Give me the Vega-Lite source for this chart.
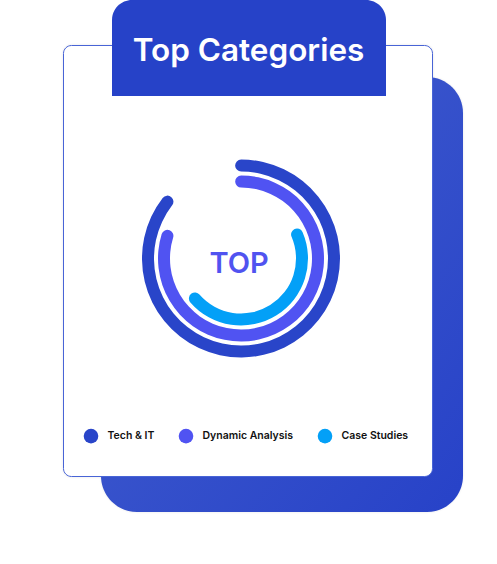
{
  "$schema": "https://vega.github.io/schema/vega-lite/v6.json",
  "width": 497,
  "height": 564,
  "padding": 0,
  "autosize": {"type": "none"},
  "background": "#ffffff",
  "config": {"view": {"stroke": null}},
  "data": {"values": [
    {"category": "Tech & IT", "start": -1.0, "end": 86.5},
    {"category": "Dynamic Analysis", "start": -1.2, "end": 81.0},
    {"category": "Case Studies", "start": 17.0, "end": 65.2}
  ]},
  "layer": [
    {
      "data": {"values": [{"w": 90}, {"w": 70}, {"w": 50}, {"w": 30}, {"w": 14}]},
      "mark": {"type": "rect", "fillOpacity": 0, "stroke": "#000000", "strokeOpacity": 0.008, "cornerRadius": 36, "strokeJoin": "round"},
      "encoding": {
        "x": {"datum": 101, "type": "quantitative", "scale": {"domain": [0, 497], "nice": false, "zero": false}, "axis": null},
        "x2": {"datum": 463},
        "y": {"datum": 77, "type": "quantitative", "scale": {"domain": [0, 564], "reverse": true, "nice": false, "zero": false}, "axis": null},
        "y2": {"datum": 512},
        "strokeWidth": {"field": "w", "type": "quantitative", "scale": {"type": "identity"}, "legend": null}
      }
    },
    {
      "data": {"values": [{"w": 90}, {"w": 70}, {"w": 50}, {"w": 30}, {"w": 14}]},
      "mark": {"type": "rect", "fillOpacity": 0, "stroke": "#000000", "strokeOpacity": 0.008, "cornerRadius": 8, "strokeJoin": "round"},
      "encoding": {
        "x": {"datum": 63, "type": "quantitative", "scale": {"domain": [0, 497], "nice": false, "zero": false}, "axis": null},
        "x2": {"datum": 433},
        "y": {"datum": 45, "type": "quantitative", "scale": {"domain": [0, 564], "reverse": true, "nice": false, "zero": false}, "axis": null},
        "y2": {"datum": 477},
        "strokeWidth": {"field": "w", "type": "quantitative", "scale": {"type": "identity"}, "legend": null}
      }
    },
    {
      "data": {"values": [{}]},
      "mark": {"type": "rect", "cornerRadius": 36, "color": {"gradient": "linear", "x1": 0, "y1": 0, "x2": 1, "y2": 1, "stops": [{"offset": 0, "color": "#4460CE"}, {"offset": 1, "color": "#2742C8"}]}},
      "encoding": {
        "x": {"datum": 101, "type": "quantitative", "scale": {"domain": [0, 497], "nice": false, "zero": false}, "axis": null},
        "x2": {"datum": 463},
        "y": {"datum": 77, "type": "quantitative", "scale": {"domain": [0, 564], "reverse": true, "nice": false, "zero": false}, "axis": null},
        "y2": {"datum": 512}
      }
    },
    {
      "data": {"values": [{}]},
      "mark": {"type": "rect", "fill": "#ffffff", "stroke": "#4864D6", "strokeWidth": 1, "cornerRadius": 8},
      "encoding": {
        "x": {"datum": 63.5, "type": "quantitative", "scale": {"domain": [0, 497], "nice": false, "zero": false}, "axis": null},
        "x2": {"datum": 432.5},
        "y": {"datum": 45.5, "type": "quantitative", "scale": {"domain": [0, 564], "reverse": true, "nice": false, "zero": false}, "axis": null},
        "y2": {"datum": 476.5}
      }
    },
    {
      "data": {"values": [{}]},
      "mark": {"type": "rect", "fill": "#2642C8", "cornerRadiusTopLeft": 20, "cornerRadiusTopRight": 20},
      "encoding": {
        "x": {"datum": 112, "type": "quantitative", "scale": {"domain": [0, 497], "nice": false, "zero": false}, "axis": null},
        "x2": {"datum": 386},
        "y": {"datum": 0, "type": "quantitative", "scale": {"domain": [0, 564], "reverse": true, "nice": false, "zero": false}, "axis": null},
        "y2": {"datum": 96}
      }
    },
    {
      "data": {"values": [{"label": "Top Categories"}]},
      "mark": {"type": "text", "color": "#ffffff", "font": "Inter", "fontWeight": 600, "fontSize": 31.5, "align": "center", "baseline": "alphabetic"},
      "encoding": {
        "x": {"datum": 248.5, "type": "quantitative", "scale": {"domain": [0, 497], "nice": false, "zero": false}, "axis": null},
        "y": {"datum": 60.5, "type": "quantitative", "scale": {"domain": [0, 564], "reverse": true, "nice": false, "zero": false}, "axis": null},
        "text": {"field": "label", "type": "nominal"}
      }
    },
    {
      "transform": [{"filter": "datum.category === 'Tech & IT'"}],
      "mark": {"type": "arc", "radius": 99, "radius2": 87, "cornerRadius": 6},
      "encoding": {
        "x": {"datum": 241, "type": "quantitative", "scale": {"domain": [0, 497], "nice": false, "zero": false}, "axis": null},
        "y": {"datum": 258.5, "type": "quantitative", "scale": {"domain": [0, 564], "reverse": true, "nice": false, "zero": false}, "axis": null},
        "theta": {"field": "start", "type": "quantitative", "stack": null, "scale": {"domain": [0, 100], "range": [0, 6.283185307179586], "zero": false, "nice": false}},
        "theta2": {"field": "end"},
        "color": {"field": "category", "type": "nominal", "scale": {"domain": ["Tech & IT", "Dynamic Analysis", "Case Studies"], "range": ["#2945C9", "#5053F2", "#03A0F7"]},
          "legend": {"orient": "none", "legendX": 83.5, "legendY": 428.5, "direction": "horizontal", "title": null, "padding": 0, "symbolType": "circle", "symbolSize": 215, "symbolStrokeWidth": 0, "symbolOpacity": 1, "labelFont": "Inter", "labelFontWeight": 600, "labelFontSize": 10.5, "labelColor": "#111111", "labelOffset": 9, "columnPadding": 24}}
      }
    },
    {
      "transform": [{"filter": "datum.category === 'Dynamic Analysis'"}],
      "mark": {"type": "arc", "radius": 83, "radius2": 71, "cornerRadius": 6},
      "encoding": {
        "x": {"datum": 241, "type": "quantitative", "scale": {"domain": [0, 497], "nice": false, "zero": false}, "axis": null},
        "y": {"datum": 258.5, "type": "quantitative", "scale": {"domain": [0, 564], "reverse": true, "nice": false, "zero": false}, "axis": null},
        "theta": {"field": "start", "type": "quantitative", "stack": null, "scale": {"domain": [0, 100], "range": [0, 6.283185307179586], "zero": false, "nice": false}},
        "theta2": {"field": "end"},
        "color": {"field": "category", "type": "nominal", "scale": {"domain": ["Tech & IT", "Dynamic Analysis", "Case Studies"], "range": ["#2945C9", "#5053F2", "#03A0F7"]}}
      }
    },
    {
      "transform": [{"filter": "datum.category === 'Case Studies'"}],
      "mark": {"type": "arc", "radius": 67, "radius2": 55, "cornerRadius": 6},
      "encoding": {
        "x": {"datum": 241, "type": "quantitative", "scale": {"domain": [0, 497], "nice": false, "zero": false}, "axis": null},
        "y": {"datum": 258.5, "type": "quantitative", "scale": {"domain": [0, 564], "reverse": true, "nice": false, "zero": false}, "axis": null},
        "theta": {"field": "start", "type": "quantitative", "stack": null, "scale": {"domain": [0, 100], "range": [0, 6.283185307179586], "zero": false, "nice": false}},
        "theta2": {"field": "end"},
        "color": {"field": "category", "type": "nominal", "scale": {"domain": ["Tech & IT", "Dynamic Analysis", "Case Studies"], "range": ["#2945C9", "#5053F2", "#03A0F7"]}}
      }
    },
    {
      "data": {"values": [{"label": "TOP"}]},
      "mark": {"type": "text", "color": "#5053F0", "font": "Inter", "fontWeight": 600, "fontSize": 29, "align": "center", "baseline": "alphabetic"},
      "encoding": {
        "x": {"datum": 239, "type": "quantitative", "scale": {"domain": [0, 497], "nice": false, "zero": false}, "axis": null},
        "y": {"datum": 272.5, "type": "quantitative", "scale": {"domain": [0, 564], "reverse": true, "nice": false, "zero": false}, "axis": null},
        "text": {"field": "label", "type": "nominal"}
      }
    }
  ]
}
